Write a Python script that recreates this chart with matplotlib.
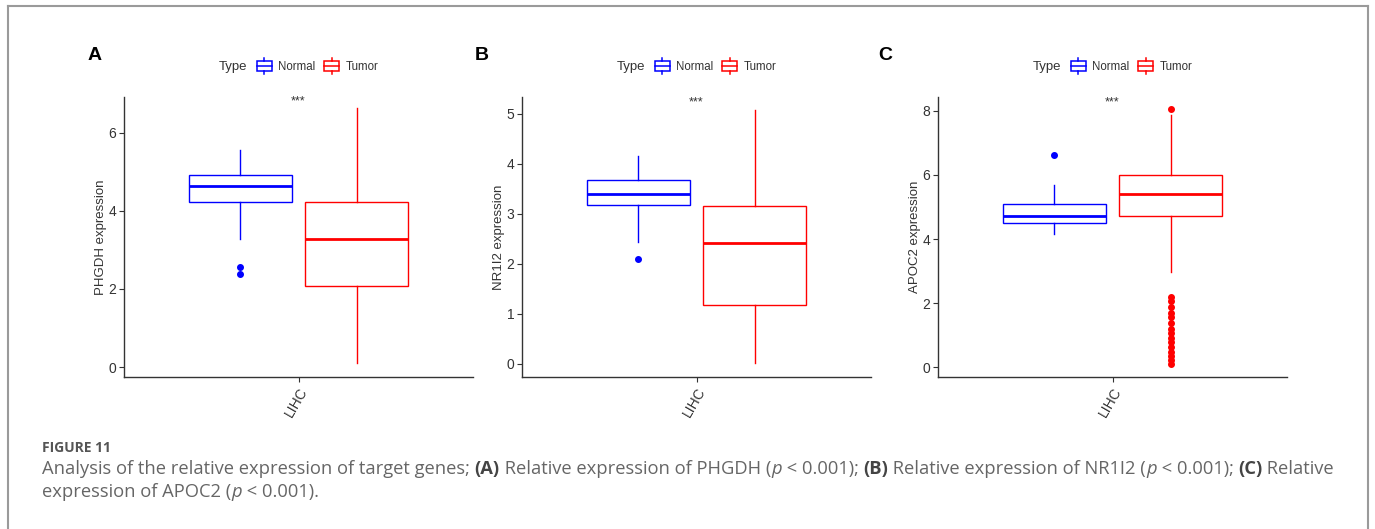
import matplotlib
matplotlib.use("Agg")
import matplotlib.pyplot as plt
from matplotlib.legend_handler import HandlerBase
from matplotlib.patches import Rectangle
from matplotlib.lines import Line2D

# ---------------- data ----------------
genes = ["PHGDH", "NR1I2", "APOC2"]
panel_letters = ["A", "B", "C"]
category = "LIHC"
groups = ["Normal", "Tumor"]
colors = {"Normal": "#0000FF", "Tumor": "#FF0000"}

# box statistics: (whislo, q1, med, q3, whishi)
normal_stats = {
    "PHGDH": (3.28, 4.22, 4.63, 4.91, 5.56),
    "NR1I2": (2.43, 3.17, 3.40, 3.67, 4.15),
    "APOC2": (4.15, 4.50, 4.72, 5.09, 5.69),
}
tumor_stats = {
    "PHGDH": (0.09, 2.08, 3.27, 4.22, 6.63),
    "NR1I2": (0.01, 1.17, 2.42, 3.16, 5.08),
    "APOC2": (2.97, 4.73, 5.41, 5.99, 7.88),
}
normal_outliers = {
    "PHGDH": [2.57, 2.38],
    "NR1I2": [2.09],
    "APOC2": [6.63],
}
tumor_outliers = {
    "PHGDH": [],
    "NR1I2": [],
    "APOC2": [8.06, 2.19, 2.07, 1.89, 1.68, 1.56, 1.39, 1.21, 1.06, 0.93,
              0.80, 0.65, 0.49, 0.35, 0.23, 0.10],
}
yticks = {
    "PHGDH": [0, 2, 4, 6],
    "NR1I2": [0, 1, 2, 3, 4, 5],
    "APOC2": [0, 2, 4, 6, 8],
}
ylims = {
    "PHGDH": (-0.256, 6.92),
    "NR1I2": (-0.26, 5.33),
    "APOC2": (-0.30, 8.43),
}
signif_y = {"PHGDH": 6.80, "NR1I2": 5.22, "APOC2": 8.26}
signif_label = "***"

caption_title = "FIGURE 11"
caption_line1 = [
    ("Analysis of the relative expression of target genes; ", "normal", "normal"),
    ("(A)", "bold", "normal"),
    (" Relative expression of PHGDH (", "normal", "normal"),
    ("p", "normal", "italic"),
    (" < 0.001); ", "normal", "normal"),
    ("(B)", "bold", "normal"),
    (" Relative expression of NR1I2 (", "normal", "normal"),
    ("p", "normal", "italic"),
    (" < 0.001); ", "normal", "normal"),
    ("(C)", "bold", "normal"),
    (" Relative", "normal", "normal"),
]
caption_line2 = [
    ("expression of APOC2 (", "normal", "normal"),
    ("p", "normal", "italic"),
    (" < 0.001).", "normal", "normal"),
]

# ---------------- figure ----------------
W, H = 1375, 529
fig = plt.figure(figsize=(W / 100, H / 100), dpi=100)
fig.patch.set_facecolor("white")

plot_font = "Liberation Sans"
cap_font = "Open Sans"
txt_col = "#333333"


def fx(px):
    return px / W


def fy(py):
    return 1 - py / H


class BoxHandler(HandlerBase):
    def create_artists(self, legend, orig_handle, xdescent, ydescent,
                       width, height, fontsize, trans):
        c = orig_handle.get_color()
        x0 = -xdescent + width * 0.02
        w = width * 0.96
        bh = height * 1.0
        y0 = -ydescent + (height - bh) / 2
        rect = Rectangle((x0, y0), w, bh, facecolor="white", edgecolor=c,
                         lw=1.1, transform=trans)
        ym = y0 + bh / 2
        med = Line2D([x0, x0 + w], [ym, ym], color=c, lw=1.1, transform=trans)
        xc = x0 + w / 2
        up = Line2D([xc, xc], [y0 + bh, y0 + bh + 2.5], color=c, lw=1.1, transform=trans)
        dn = Line2D([xc, xc], [y0 - 2.5, y0], color=c, lw=1.1, transform=trans)
        return [rect, med, up, dn]


axes_left_px = [124, 522, 938]
axes_w_px = 349
axes_top_px, axes_bot_px = 97, 377
letter_x_px = [88, 475, 878]

for i, g in enumerate(genes):
    ax = fig.add_axes([fx(axes_left_px[i]), fy(axes_bot_px),
                       axes_w_px / W, (axes_bot_px - axes_top_px) / H])
    stats = []
    for grp, st, outl in (("Normal", normal_stats[g], normal_outliers[g]),
                          ("Tumor", tumor_stats[g], tumor_outliers[g])):
        wl, q1, med, q3, wh = st
        stats.append(dict(whislo=wl, q1=q1, med=med, q3=q3, whishi=wh,
                          fliers=outl, label=grp))
    positions = [-0.2, 0.2]
    for s, pos, grp in zip(stats, positions, groups):
        c = colors[grp]
        ax.bxp([s], positions=[pos], widths=0.354, showcaps=False,
               patch_artist=True,
               boxprops=dict(facecolor="white", edgecolor=c, lw=1.0),
               medianprops=dict(color=c, lw=2.0, solid_capstyle="butt"),
               whiskerprops=dict(color=c, lw=1.0),
               flierprops=dict(marker="o", markerfacecolor=c,
                               markeredgecolor=c, markersize=4.0, linestyle="none"))
    ax.set_xlim(-0.6, 0.6)
    ax.set_ylim(*ylims[g])
    ax.set_xticks([0])
    ax.set_xticklabels([category], rotation=60, ha="right", va="top",
                       rotation_mode="anchor", fontsize=10, family=plot_font,
                       color=txt_col)
    ax.set_yticks(yticks[g])
    ax.set_yticklabels([str(t) for t in yticks[g]], fontsize=10,
                       family=plot_font, color=txt_col)
    ax.tick_params(axis="both", length=3.5, width=0.8, color="#333333", pad=2)
    for side in ("top", "right"):
        ax.spines[side].set_visible(False)
    for side in ("left", "bottom"):
        ax.spines[side].set_color("#333333")
        ax.spines[side].set_linewidth(1.0)
    ax.set_ylabel(f"{g} expression", fontsize=9.5, family=plot_font,
                  color=txt_col, labelpad=1)
    ax.text(0, signif_y[g], signif_label, ha="center", va="center",
            fontsize=9, family=plot_font, color=txt_col)

    # legend
    handles = [Line2D([], [], color=colors[grp]) for grp in groups]
    leg = ax.legend(handles, groups, handler_map={Line2D: BoxHandler()},
                    loc="center left", bbox_to_anchor=(0.381, 1.107),
                    ncol=2, frameon=False, borderpad=0, borderaxespad=0,
                    handlelength=1.3, handleheight=0.85, handletextpad=0.55,
                    columnspacing=0.75, prop=dict(family=plot_font, size=8.3))
    for t in leg.get_texts():
        t.set_color(txt_col)
    ax.text(0.353, 1.107, "Type", transform=ax.transAxes, ha="right",
            va="center", fontsize=9.5, family=plot_font, color=txt_col)

    fig.text(fx(letter_x_px[i]), fy(55), panel_letters[i], ha="left",
             va="center", fontsize=14, fontweight="bold", family=plot_font,
             color="black")

# frame
frame_col = "#9a9a9a"
fig.add_artist(Line2D([fx(8), fx(8)], [fy(6), 0], color=frame_col, lw=1.5,
                      transform=fig.transFigure))
fig.add_artist(Line2D([fx(1368), fx(1368)], [fy(6), 0], color=frame_col, lw=1.5,
                      transform=fig.transFigure))
fig.add_artist(Line2D([fx(8), fx(1368)], [fy(6), fy(6)], color=frame_col, lw=1.5,
                      transform=fig.transFigure))

# caption
renderer = fig.canvas.get_renderer()
cap_color = "#666666"


def draw_runs(x_px, base_px, runs, size):
    x = x_px
    arts = []
    for txt, weight, style in runs:
        t = fig.text(fx(x), fy(base_px), txt, ha="left", va="baseline",
                     fontsize=size, family=cap_font, fontweight=weight,
                     fontstyle=style,
                     color="#444444" if weight == "bold" else cap_color)
        bb = t.get_window_extent(renderer)
        x = bb.x1
        arts.append(t)
    return arts, x


# fit the first caption line to the reference width (42 -> 1333 px)
trial, xend = draw_runs(42, 474, caption_line1, 12.0)
for t in trial:
    t.remove()
cap_size = 12.0 * (1333 - 42) / (xend - 42)

fig.text(fx(42), fy(452), caption_title, ha="left", va="baseline",
         fontsize=10, family=cap_font, fontweight="bold", color="#555555")
draw_runs(42, 474, caption_line1, cap_size)
draw_runs(42, 497, caption_line2, cap_size)

fig.savefig("out.png", dpi=100, facecolor="white")
